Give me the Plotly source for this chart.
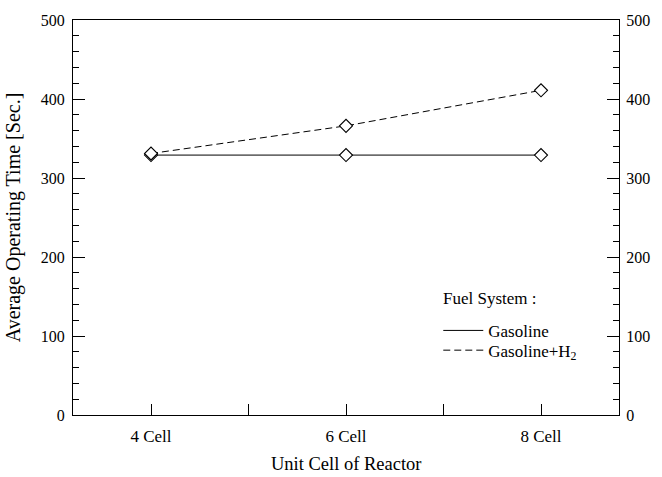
import plotly.graph_objects as go

cells = [4, 6, 8]
cell_labels = ["4 Cell", "6 Cell", "8 Cell"]
gasoline = [329, 329, 329]
gasoline_h2 = [331, 366, 411]
series_names = ["Gasoline", "Gasoline+H<sub>2</sub>"]
y_ticks = [0, 100, 200, 300, 400, 500]

FONT = "Liberation Serif, Times New Roman, serif"
DASH = "7px,4px"

fig = go.Figure()
marker = dict(symbol="diamond", size=10, color="white", line=dict(color="black", width=1.1))
fig.add_trace(go.Scatter(x=cells, y=gasoline, mode="lines+markers",
                         line=dict(color="black", width=1), marker=marker, showlegend=False))
fig.add_trace(go.Scatter(x=cells, y=gasoline_h2, mode="lines+markers",
                         line=dict(color="black", width=1, dash=DASH), marker=marker, showlegend=False))
# legend entries (line samples only), each in its own legend box for tight row spacing
fig.add_trace(go.Scatter(x=[None], y=[None], mode="lines", name=series_names[0],
                         line=dict(color="black", width=1), yaxis="y2", legend="legend"))
fig.add_trace(go.Scatter(x=[None], y=[None], mode="lines", name=series_names[1],
                         line=dict(color="black", width=1, dash=DASH), yaxis="y2", legend="legend2"))

axis_common = dict(showline=True, linecolor="black", linewidth=1, showgrid=False, zeroline=False,
                   tickcolor="black")
yfont = dict(family=FONT, size=16, color="black")
leg_common = dict(xanchor="left", yanchor="middle", font=dict(family=FONT, size=17),
                  bgcolor="rgba(0,0,0,0)", itemwidth=40)

fig.update_layout(
    width=662, height=477,
    margin=dict(l=73, r=36, t=14, b=62),
    paper_bgcolor="white", plot_bgcolor="white",
    font=dict(family=FONT, size=16, color="black"),
    xaxis=dict(range=[3.2, 8.8], tickvals=cells, ticktext=cell_labels,
               ticks="inside", ticklen=11, tickwidth=1, mirror=True, ticklabelstandoff=6,
               tickfont=dict(family=FONT, size=17, color="black"),
               minor=dict(tick0=4, dtick=1, ticks="inside", ticklen=11, tickcolor="black", tickwidth=1),
               **axis_common),
    yaxis=dict(range=[0, 500], tickvals=y_ticks,
               ticks="inside", ticklen=12, tickwidth=1, ticklabelstandoff=4, tickfont=yfont,
               minor=dict(dtick=20, ticks="inside", ticklen=6, tickcolor="black", tickwidth=1),
               title=dict(text="Average Operating Time [Sec.]", font=dict(family=FONT, size=20), standoff=14),
               **axis_common),
    yaxis2=dict(range=[0, 500], tickvals=y_ticks, overlaying="y", side="right",
                ticks="inside", ticklen=12, tickwidth=1, ticklabelstandoff=3, tickfont=yfont,
                minor=dict(dtick=20, ticks="inside", ticklen=6, tickcolor="black", tickwidth=1),
                **axis_common),
    legend=dict(x=0.669, y=0.213, **leg_common),
    legend2=dict(x=0.669, y=0.163, **leg_common),
    annotations=[
        dict(text="Unit Cell of Reactor", x=6, xref="x", y=0, yref="paper",
             yanchor="middle", yshift=-49, showarrow=False, font=dict(family=FONT, size=18.5)),
        dict(text="Fuel System :", x=0.674, xref="paper", y=0.295, yref="paper",
             xanchor="left", yanchor="middle", showarrow=False, font=dict(family=FONT, size=17)),
    ],
)

fig.write_html("out.html", config={"displayModeBar": False},
               post_script="document.body.style.margin='0';document.body.style.overflow='hidden';")
